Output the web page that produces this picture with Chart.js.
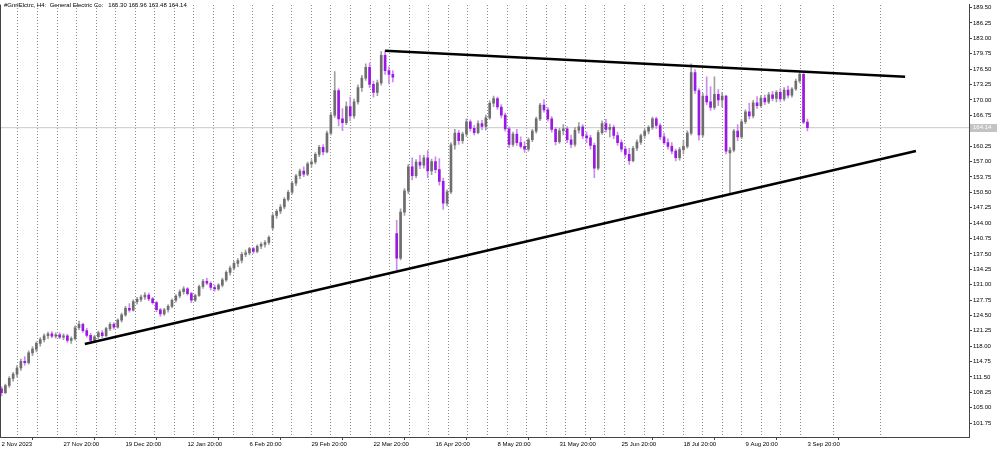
<!DOCTYPE html>
<html>
<head>
<meta charset="utf-8">
<script src="https://cdn.jsdelivr.net/npm/chart.js@4.4.1/dist/chart.umd.min.js"></script>
<style>
  html, body { margin: 0; padding: 0; background: #fff; }
  #wrap { width: 1000px; height: 450px; position: relative; }
</style>
</head>
<body>
<div id="wrap"><canvas id="graph-h4"></canvas></div>
<script>
  // one candle per trading day, 2 Nov 2023 .. 3 Sep 2024
  const opens = [
    109.0,108.2,109.7,111.2,112.1,113.4,114.8,114.5,116.6,117.4,
    118.6,119.4,120.2,120.6,120.1,120.4,119.9,120.2,119.2,119.6,
    121.9,122.6,121.3,120.3,119.2,120.0,120.8,120.2,121.7,122.6,
    122.0,123.5,124.6,126.0,125.6,127.4,127.9,128.4,128.8,128.0,
    127.2,125.7,124.8,125.7,126.4,127.7,128.6,129.5,130.1,129.1,
    127.7,128.7,130.6,131.7,131.3,130.4,130.1,130.9,132.0,133.6,
    134.5,135.5,136.1,137.4,137.7,138.6,138.0,139.1,139.5,139.9,
    143.0,145.6,146.5,147.4,149.0,150.5,152.4,154.0,155.0,154.3,
    156.5,156.9,158.5,160.0,159.0,163.0,166.8,172.0,166.0,165.2,
    168.6,166.6,169.6,172.6,174.6,176.9,173.3,171.6,173.6,179.4,
    176.2,175.4,141.8,136.6,146.3,150.8,155.9,154.0,156.9,156.2,
    157.8,155.0,157.0,155.3,152.8,148.2,150.6,160.5,163.0,161.4,
    162.8,165.4,164.0,163.1,165.0,164.4,166.2,169.3,170.3,168.5,
    166.8,163.9,160.6,162.8,161.0,160.2,159.6,161.6,163.4,166.0,
    168.9,167.9,166.0,163.8,161.2,163.5,163.9,161.6,160.6,163.6,
    164.3,162.4,162.0,160.4,155.6,163.1,165.0,163.8,164.2,162.5,
    161.0,159.6,158.5,157.2,159.8,161.1,162.5,163.4,164.2,166.0,
    164.6,162.2,161.0,160.2,159.2,157.8,159.5,160.2,163.0,175.8,
    172.0,162.6,170.8,169.6,168.4,171.2,170.0,170.8,158.8,159.4,
    163.4,162.2,165.4,167.5,166.6,169.4,168.8,170.4,169.6,171.1,
    170.3,171.6,170.2,172.1,171.0,172.3,174.0,175.4,165.30
  ];
  const highs = [
    109.5,110.0,111.6,112.5,113.9,115.3,115.8,117.0,117.9,118.9,
    119.8,120.6,121.0,121.1,120.8,120.9,120.6,120.5,120.0,122.3,
    123.3,122.9,121.8,120.7,120.3,121.2,121.3,122.0,123.0,123.0,
    123.8,125.0,126.4,127.0,127.8,128.3,128.8,129.3,129.2,128.3,
    127.5,126.0,126.0,126.8,128.0,128.9,129.9,130.6,130.4,129.4,
    129.0,130.9,132.1,132.4,131.6,130.9,131.2,132.4,133.9,134.9,
    135.9,136.5,137.8,138.3,138.9,138.9,139.4,139.9,140.3,141.3,
    146.0,146.9,147.9,149.4,150.9,152.8,154.3,155.4,155.9,156.9,
    157.4,158.9,160.4,160.6,163.4,167.4,176.0,172.4,168.2,169.6,
    170.6,170.2,173.2,175.2,177.6,177.8,174.0,174.2,180.2,180.4,
    177.0,176.2,144.6,147.0,151.3,156.4,157.8,157.4,158.3,158.3,
    159.3,157.5,158.0,157.6,153.5,151.0,161.0,163.8,163.6,163.2,
    166.0,165.8,164.6,165.6,165.7,166.8,169.8,170.8,170.6,169.0,
    167.2,164.3,163.2,163.8,162.2,161.2,162.0,163.8,166.4,169.3,
    170.1,168.4,166.5,164.2,164.0,164.8,164.4,162.6,164.2,165.2,
    164.8,163.2,162.6,160.9,163.6,165.6,165.9,164.9,164.7,163.2,
    161.6,160.2,159.8,160.2,161.6,162.8,163.9,164.6,166.4,166.4,
    165.0,163.0,161.8,161.0,159.6,160.0,161.5,163.5,177.6,176.4,
    172.4,171.4,174.9,172.8,174.9,172.2,171.6,171.0,160.0,163.8,
    164.8,165.8,167.9,169.3,169.9,170.7,170.9,171.0,171.6,171.8,
    172.0,172.4,172.6,172.9,172.6,174.4,175.9,175.6,165.96
  ];
  const lows = [
    107.5,108.0,109.3,110.6,111.5,112.9,114.0,114.2,116.0,116.8,
    118.0,118.9,119.6,119.8,119.7,119.6,119.4,118.8,118.6,119.3,
    121.5,120.9,119.9,118.6,118.8,119.6,119.8,120.0,121.3,121.6,
    121.8,123.1,124.3,125.2,125.4,126.9,127.4,127.9,127.6,126.9,
    125.3,124.3,124.5,125.2,126.1,127.3,128.2,129.0,128.8,127.2,
    127.4,128.5,130.2,131.0,129.9,129.6,129.8,130.5,131.7,133.0,
    134.1,134.8,135.6,136.9,137.3,137.6,137.7,138.6,138.9,139.5,
    142.6,145.0,146.0,147.0,148.6,150.1,151.9,153.4,153.8,154.0,
    155.8,156.5,158.0,158.4,158.8,162.6,166.3,164.5,163.5,164.8,
    165.6,166.1,169.1,171.8,174.1,172.6,170.6,170.9,173.1,175.4,
    173.4,173.8,134.1,136.2,145.6,150.2,153.1,153.6,155.5,155.6,
    153.6,154.2,154.6,152.0,146.9,147.6,150.2,159.6,160.6,160.8,
    162.3,163.4,162.6,162.8,163.7,163.6,165.9,168.6,168.0,166.2,
    163.4,159.9,160.2,160.4,159.8,158.9,159.2,161.2,163.0,165.6,
    167.4,165.5,163.2,160.5,160.8,162.6,161.0,159.9,160.2,163.0,
    161.8,161.0,159.6,153.6,155.2,162.7,163.2,162.2,161.8,160.4,
    159.0,157.8,156.4,156.9,159.3,160.6,161.9,162.8,163.8,164.0,
    161.6,160.6,159.6,158.6,157.1,157.3,158.6,159.8,162.6,171.4,
    161.5,162.2,169.0,167.8,168.0,168.8,168.6,158.6,150.4,159.0,
    161.4,161.8,165.0,166.0,166.2,168.2,168.4,169.0,169.2,169.8,
    169.6,169.6,169.8,170.4,170.6,172.0,173.6,165.0,163.48
  ];
  const closes = [
    108.2,109.7,111.2,112.1,113.4,114.8,114.5,116.6,117.4,118.6,
    119.4,120.2,120.6,120.1,120.4,119.9,120.2,119.2,119.6,121.9,
    122.6,121.3,120.3,119.2,120.0,120.8,120.2,121.7,122.6,122.0,
    123.5,124.6,126.0,125.6,127.4,127.9,128.4,128.8,128.0,127.2,
    125.7,124.8,125.7,126.4,127.7,128.6,129.5,130.1,129.1,127.7,
    128.7,130.6,131.7,131.3,130.4,130.1,130.9,132.0,133.6,134.5,
    135.5,136.1,137.4,137.7,138.6,138.0,139.1,139.5,139.9,141.0,
    145.6,146.5,147.4,149.0,150.5,152.4,154.0,155.0,154.3,156.5,
    156.9,158.5,160.0,159.0,163.0,166.8,172.0,166.0,165.2,168.6,
    166.6,169.6,172.6,174.6,176.9,173.3,171.6,173.6,179.4,176.2,
    175.4,174.8,136.6,146.3,150.8,155.9,154.0,156.9,156.2,157.8,
    155.0,157.0,155.3,152.8,148.2,150.6,160.5,163.0,161.4,162.8,
    165.4,164.0,163.1,165.0,164.4,166.2,169.3,170.3,168.5,166.8,
    163.9,160.6,162.8,161.0,160.2,159.6,161.6,163.4,166.0,168.9,
    167.9,166.0,163.8,161.2,163.5,163.9,161.6,160.6,163.6,164.3,
    162.4,162.0,160.4,155.6,163.1,165.0,163.8,164.2,162.5,161.0,
    159.6,158.5,157.2,159.8,161.1,162.5,163.4,164.2,166.0,164.6,
    162.2,161.0,160.2,159.2,157.8,159.5,160.2,163.0,175.8,172.0,
    162.6,170.8,169.6,168.4,171.2,170.0,170.8,159.2,159.4,163.4,
    162.2,165.4,167.5,166.6,169.4,168.8,170.4,169.6,171.1,170.3,
    171.6,170.2,172.1,171.0,172.3,174.0,175.4,165.3,164.14
  ];

  const dayTicks = [0, 16, 32, 48, 64, 80, 96, 112, 128, 144, 160, 176, 192, 208];
  const dayTickLabels = ['2 Nov 2023', '27 Nov 20:00', '19 Dec 20:00', '12 Jan 20:00', '6 Feb 20:00',
    '29 Feb 20:00', '22 Mar 20:00', '16 Apr 20:00', '8 May 20:00', '31 May 20:00', '25 Jun 20:00',
    '18 Jul 20:00', '9 Aug 20:00', '3 Sep 20:00'];
  const priceTicks = [101.75, 105.00, 108.25, 111.50, 114.75, 118.00, 121.25, 124.50, 127.75, 131.00,
    134.25, 137.50, 140.75, 144.00, 147.25, 150.50, 153.75, 157.00, 160.25, 163.50, 166.75, 170.00,
    173.25, 176.50, 179.75, 183.00, 186.25, 189.50];

  // hand drawn trend lines: [day, price]
  const upperTrend = [[99, 180.4], [233.2, 174.9]];
  const lowerTrend = [[21.5, 118.46], [236.0, 159.2]];

  const xMin = -0.39, xMax = 249.7;
  const fontFam = "'Liberation Sans', Arial, sans-serif";
  const upBody = '#6e6e6e', downBody = '#9b18e2';
  const upWick = '#a0a0a0', downWick = '#c88cef';

  const days = closes.map((c, i) => i);
  const isUp = i => closes[i] >= opens[i];
  const last = closes.length - 1;

  const gridDays = [];
  for (let g = 1.7; g < 209; g += 5.05) gridDays.push(g);
  gridDays.push(220.8);

  const header = '#GnrlElctrc, H4:  General Electric Co:   ' +
    [opens[last], highs[last], lows[last], closes[last]].map(v => v.toFixed(2)).join(' ');

  const overlay = {
    id: 'overlay',
    afterDraw(chart) {
      const { ctx, chartArea, scales } = chart;
      ctx.save();
      ctx.strokeStyle = '#444';
      ctx.lineWidth = 1;
      ctx.beginPath();
      ctx.moveTo(0.5, chartArea.top);
      ctx.lineTo(0.5, chartArea.bottom);
      ctx.stroke();

      ctx.font = '6px ' + fontFam;
      ctx.textBaseline = 'middle';
      ctx.textAlign = 'left';
      ctx.fillStyle = '#000';
      ctx.fillText(header, 4, 5);

      const y = scales.y.getPixelForValue(closes[last]);
      ctx.fillStyle = '#c3c3c3';
      ctx.fillRect(chartArea.right + 1, Math.round(y) - 4, 27, 8);
      ctx.fillStyle = '#fff';
      ctx.fillText(closes[last].toFixed(2), chartArea.right + 4, y);
      ctx.restore();
    }
  };

  const data = {
    datasets: [
      {
        type: 'line', label: 'upper', xAxisID: 'x',
        data: upperTrend.map(p => ({ x: p[0], y: p[1] })),
        borderColor: '#000', borderWidth: 2.5, pointRadius: 0, order: 0
      },
      {
        type: 'line', label: 'lower', xAxisID: 'x',
        data: lowerTrend.map(p => ({ x: p[0], y: p[1] })),
        borderColor: '#000', borderWidth: 2.5, pointRadius: 0, order: 0
      },
      {
        type: 'bar', label: 'body', xAxisID: 'x',
        data: days.map(i => ({ x: i, y: [opens[i], closes[i]] })),
        backgroundColor: c => isUp(c.dataIndex) ? upBody : downBody,
        barThickness: 2, grouped: false, minBarLength: 1, order: 1
      },
      {
        type: 'bar', label: 'wick', xAxisID: 'x',
        data: days.map(i => ({ x: i, y: [lows[i], highs[i]] })),
        backgroundColor: c => isUp(c.dataIndex) ? upWick : downWick,
        barThickness: 1, grouped: false, order: 2
      },
      {
        type: 'line', label: 'bid', xAxisID: 'x',
        data: [{ x: xMin, y: closes[last] }, { x: xMax, y: closes[last] }],
        borderColor: '#c8c8c8', borderWidth: 1, pointRadius: 0, order: 3
      }
    ]
  };

  const config = {
    type: 'bar',
    data: data,
    plugins: [overlay],
    options: {
      responsive: true,
      maintainAspectRatio: false,
      devicePixelRatio: 1,
      animation: false,
      layout: { padding: 0 },
      plugins: {
        legend: { display: false },
        tooltip: { enabled: false }
      },
      scales: {
        x: {
          type: 'linear', axis: 'x', position: 'bottom', min: xMin, max: xMax, offset: false,
          afterBuildTicks: s => { s.ticks = dayTicks.map(v => ({ value: v })); },
          afterFit: s => { s.height = 13; },
          ticks: {
            autoSkip: false, maxRotation: 0, align: 'start', padding: 1, color: '#000',
            font: { family: fontFam, size: 6 },
            callback: (v, i) => dayTickLabels[i]
          },
          grid: { drawOnChartArea: false, tickLength: 3, color: '#444' },
          border: { color: '#444' }
        },
        x2: {
          type: 'linear', axis: 'x', position: 'top', min: xMin, max: xMax, offset: false,
          afterBuildTicks: s => { s.ticks = gridDays.map(v => ({ value: v })); },
          afterFit: s => { s.height = 0; },
          ticks: { display: false },
          grid: { drawTicks: false, color: '#8a8a8a', lineWidth: 1 },
          border: { display: false, dash: [1, 2] }
        },
        y: {
          type: 'linear', position: 'right', min: 98.83, max: 190.13,
          afterBuildTicks: s => { s.ticks = priceTicks.map(v => ({ value: v })); },
          afterFit: s => { s.width = 31; },
          ticks: {
            padding: 1, color: '#000',
            font: { family: fontFam, size: 6 },
            callback: v => v.toFixed(2)
          },
          grid: { drawOnChartArea: false, tickLength: 3, color: '#444' },
          border: { color: '#444' }
        }
      }
    }
  };

  const ctx = document.getElementById('graph-h4').getContext('2d');
  new Chart(ctx, config);
</script>
</body>
</html>
